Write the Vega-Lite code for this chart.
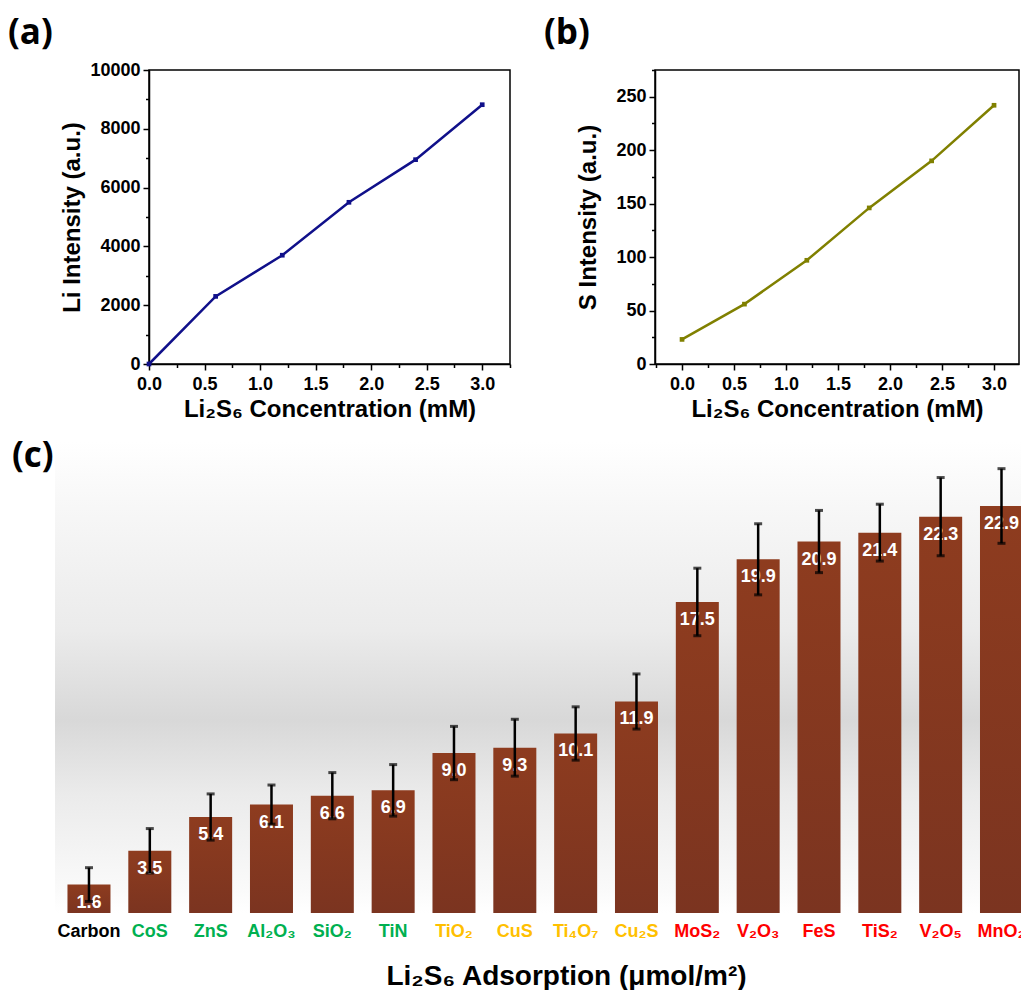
{
  "$schema": "https://vega.github.io/schema/vega-lite/v6.json",
  "padding": {"left": 7, "top": 15, "right": 0, "bottom": 0},
  "background": "white",
  "config": {
    "font": "Liberation Sans",
    "view": {"stroke": "black", "strokeWidth": 1.5},
    "axis": {"labelFont": "Liberation Sans", "labelFontWeight": "bold", "labelFontSize": 18, "labelColor": "black", "titleFont": "Liberation Sans", "titleFontWeight": "bold", "titleColor": "black", "titleFontSize": 24, "domainColor": "black", "tickColor": "black", "domainWidth": 1.5, "tickWidth": 1.5, "grid": false, "labelOverlap": false, "labelFlush": false},
    "title": {"font": "Open Sans", "fontWeight": "bold", "fontSize": 35, "color": "black", "anchor": "start"}
  },
  "spacing": 17,
  "vconcat": [
    {
      "spacing": 31,
      "hconcat": [
        {
          "width": 361, "height": 294,
          "title": {"text": "(a)", "frame": "bounds", "dx": -53, "offset": 10},
          "data": {"values": [
            {"c": 0, "i": 0}, {"c": 0.6, "i": 2300}, {"c": 1.2, "i": 3700},
            {"c": 1.8, "i": 5500}, {"c": 2.4, "i": 6950}, {"c": 3.0, "i": 8820}
          ]},
          "mark": {"type": "line", "color": "#10108a", "strokeWidth": 2.5, "point": {"shape": "square", "size": 22, "filled": true, "color": "#10108a"}},
          "encoding": {
            "x": {"field": "c", "type": "quantitative", "scale": {"domain": [0, 3.25], "nice": false, "zero": false},
              "axis": {"title": "Li₂S₆ Concentration (mM)", "values": [0, 0.25, 0.5, 0.75, 1, 1.25, 1.5, 1.75, 2, 2.25, 2.5, 2.75, 3, 3.25],
                "labelExpr": "datum.value % 0.5 === 0 ? format(datum.value, '.1f') : ''",
                "tickSize": {"condition": {"test": "datum.value % 0.5 === 0", "value": 6}, "value": 3.5},
                "labelPadding": 5, "titlePadding": 4}},
            "y": {"field": "i", "type": "quantitative", "scale": {"domain": [0, 10000], "nice": false},
              "axis": {"title": "Li Intensity (a.u.)", "values": [0, 1000, 2000, 3000, 4000, 5000, 6000, 7000, 8000, 9000, 10000],
                "labelExpr": "datum.value % 2000 === 0 ? format(datum.value, 'd') : ''",
                "tickSize": {"condition": {"test": "datum.value % 2000 === 0", "value": 6}, "value": 3.5},
                "labelPadding": 3, "titlePadding": 5}}
          }
        },
        {
          "width": 364, "height": 294,
          "title": {"text": "(b)", "frame": "bounds", "dx": -33, "offset": 10},
          "data": {"values": [
            {"c": 0, "s": 23}, {"c": 0.6, "s": 56}, {"c": 1.2, "s": 97},
            {"c": 1.8, "s": 146}, {"c": 2.4, "s": 190}, {"c": 3.0, "s": 242}
          ]},
          "mark": {"type": "line", "color": "#808000", "strokeWidth": 2.5, "point": {"shape": "square", "size": 22, "filled": true, "color": "#808000"}},
          "encoding": {
            "x": {"field": "c", "type": "quantitative", "scale": {"domain": [-0.26, 3.24], "nice": false, "zero": false},
              "axis": {"title": "Li₂S₆ Concentration (mM)", "values": [-0.25, 0, 0.25, 0.5, 0.75, 1, 1.25, 1.5, 1.75, 2, 2.25, 2.5, 2.75, 3],
                "labelExpr": "datum.value % 0.5 === 0 ? format(datum.value, '.1f') : ''",
                "tickSize": {"condition": {"test": "datum.value % 0.5 === 0", "value": 6}, "value": 3.5},
                "labelPadding": 5, "titlePadding": 4}},
            "y": {"field": "s", "type": "quantitative", "scale": {"domain": [0, 275], "nice": false},
              "axis": {"title": "S Intensity (a.u.)", "values": [0, 25, 50, 75, 100, 125, 150, 175, 200, 225, 250, 275],
                "labelExpr": "datum.value % 50 === 0 ? format(datum.value, 'd') : ''",
                "tickSize": {"condition": {"test": "datum.value % 50 === 0", "value": 6}, "value": 3.5},
                "labelPadding": 3, "titlePadding": 15}}
          }
        }
      ]
    },
    {
      "width": 874, "height": 471,
      "view": {"stroke": null},
      "title": {"text": "(c)", "frame": "group", "dx": -137, "offset": -32},
      "resolve": {"scale": {"x": "independent"}},
      "layer": [
        {
          "data": {"values": [{"x0": 0, "x1": 1, "y0": 0, "y1": 26.5}]},
          "mark": {"type": "rect", "color": {"gradient": "linear", "x1": 0, "y1": 0, "x2": 0, "y2": 1, "stops": [
            {"offset": 0, "color": "#ffffff"}, {"offset": 0.12, "color": "#f8f8f8"}, {"offset": 0.4, "color": "#ebebeb"},
            {"offset": 0.59, "color": "#d8d8d8"}, {"offset": 0.75, "color": "#ebebeb"}, {"offset": 0.95, "color": "#fafafa"}, {"offset": 1, "color": "#ffffff"}]}},
          "encoding": {
            "x": {"field": "x0", "type": "quantitative", "scale": {"domain": [0, 1], "range": [-94, 874], "nice": false, "zero": false}, "axis": null},
            "x2": {"field": "x1"},
            "y": {"field": "y0", "type": "quantitative", "scale": {"domain": [0, 26.5], "nice": false}, "axis": null},
            "y2": {"field": "y1"}
          }
        },
        {
          "data": {"values": [
            {"m": "Carbon", "v": 1.6, "e": 0.95},
            {"m": "CoS", "v": 3.5, "e": 1.25},
            {"m": "ZnS", "v": 5.4, "e": 1.3},
            {"m": "Al₂O₃", "v": 6.1, "e": 1.1},
            {"m": "SiO₂", "v": 6.6, "e": 1.3},
            {"m": "TiN", "v": 6.9, "e": 1.45},
            {"m": "TiO₂", "v": 9.0, "e": 1.5},
            {"m": "CuS", "v": 9.3, "e": 1.6},
            {"m": "Ti₄O₇", "v": 10.1, "e": 1.5},
            {"m": "Cu₂S", "v": 11.9, "e": 1.55},
            {"m": "MoS₂", "v": 17.5, "e": 1.9},
            {"m": "V₂O₃", "v": 19.9, "e": 2.0},
            {"m": "FeS", "v": 20.9, "e": 1.75},
            {"m": "TiS₂", "v": 21.4, "e": 1.6},
            {"m": "V₂O₅", "v": 22.3, "e": 2.2},
            {"m": "MnO₂", "v": 22.9, "e": 2.1}
          ]},
          "encoding": {
            "x": {"field": "m", "type": "nominal", "sort": null,
              "scale": {"range": [-94, 874], "paddingInner": 0.293, "paddingOuter": 0.1025, "align": 1},
              "axis": {"orient": "bottom", "title": "Li₂S₆ Adsorption (μmol/m²)", "labelAngle": 0, "domain": false, "ticks": false, "labelPadding": 9, "labelFontSize": 18,
                "labelColor": {"condition": [
                  {"test": "indexof(['CoS','ZnS','Al₂O₃','SiO₂','TiN'], datum.value) >= 0", "value": "#00b050"},
                  {"test": "indexof(['TiO₂','CuS','Ti₄O₇','Cu₂S'], datum.value) >= 0", "value": "#ffc000"},
                  {"test": "indexof(['MoS₂','V₂O₃','FeS','TiS₂','V₂O₅','MnO₂'], datum.value) >= 0", "value": "#ff0000"}
                ], "value": "black"},
                "titleFontSize": 28, "titlePadding": 22, "titleX": 417}},
            "y": {"field": "v", "type": "quantitative", "scale": {"domain": [0, 26.5], "nice": false}, "axis": null}
          },
          "layer": [
            {"mark": {"type": "bar", "color": {"gradient": "linear", "x1": 0, "y1": 0, "x2": 0, "y2": 1, "stops": [{"offset": 0, "color": "#8e3c1f"}, {"offset": 1, "color": "#7b3420"}]}}},
            {"mark": {"type": "text", "baseline": "top", "dy": 9, "color": "white", "fontSize": 18, "fontWeight": "bold"},
              "encoding": {"text": {"field": "v", "type": "quantitative", "format": ".1f"}}},
            {"mark": {"type": "errorbar", "ticks": {"size": 8, "thickness": 3}, "thickness": 2.5, "color": "black"},
              "encoding": {"yError": {"field": "e"}}}
          ]
        }
      ]
    }
  ]
}
